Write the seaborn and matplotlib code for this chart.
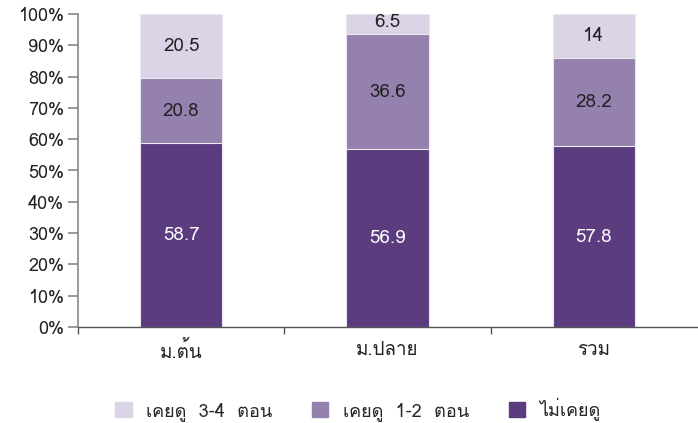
import matplotlib
matplotlib.use("Agg")
import matplotlib.pyplot as plt
from matplotlib import font_manager as fm
from matplotlib.ft2font import FT2Font
from matplotlib.patches import Patch
import seaborn as sns
import pandas as pd

categories = ["ม.ต้น", "ม.ปลาย", "รวม"]
never = [58.7, 56.9, 57.8]
seen_1_2 = [20.8, 36.6, 28.2]
seen_3_4 = [20.5, 6.5, 14.0]
yticks = list(range(0, 101, 10))

colors = {"ไม่เคยดู": "#5b3c7f", "เคยดู 1-2 ตอน": "#9581ad", "เคยดู 3-4 ตอน": "#dbd4e6"}

sns.set_theme(style="ticks")

thai_font = None
for f in fm.fontManager.ttflist:
    try:
        cm = FT2Font(f.fname).get_charmap()
        if ord("ม") in cm and ord("ู") in cm:
            thai_font = f.name
            break
    except Exception:
        pass
fams = ([thai_font] if thai_font else []) + ["DejaVu Sans"]
plt.rcParams["font.family"] = fams

df = pd.DataFrame({"cat": categories, "never": never, "s12": seen_1_2, "s34": seen_3_4})
df["b2"] = df["never"] + df["s12"]
df["b3"] = df["b2"] + df["s34"]

fig = plt.figure(figsize=(6.98, 4.23), dpi=100)
ax = fig.add_axes([78 / 698, 96 / 423, 619 / 698, 313 / 423])

sns.barplot(data=df, x="cat", y="b3", color=colors["เคยดู 3-4 ตอน"], width=0.4, ax=ax, saturation=1,
            edgecolor="#ece8f2", linewidth=0.8)
sns.barplot(data=df, x="cat", y="b2", color=colors["เคยดู 1-2 ตอน"], width=0.4, ax=ax, saturation=1,
            edgecolor="#ece8f2", linewidth=0.8)
sns.barplot(data=df, x="cat", y="never", color=colors["ไม่เคยดู"], width=0.4, ax=ax, saturation=1,
            edgecolor="#ece8f2", linewidth=0.8)

for i in range(len(categories)):
    ax.text(i, never[i] / 2, f"{never[i]:g}", ha="center", va="center", color="white", fontsize=13.5)
    ax.text(i, never[i] + seen_1_2[i] / 2, f"{seen_1_2[i]:g}", ha="center", va="center", color="#222222", fontsize=13.5)
    top = never[i] + seen_1_2[i]
    ypos = top + seen_3_4[i] / 2 + (0.6 if seen_3_4[i] < 8 else 0)
    ax.text(i, ypos, f"{seen_3_4[i]:g}", ha="center", va="center", color="#222222", fontsize=13.5)

ax.set_xlim(-0.5, 2.5)
ax.set_ylim(0, 100)
ax.set_yticks(yticks)
ax.set_yticklabels([f"{t}%" for t in yticks], fontsize=13, color="#222222")
ax.set_xticks(range(3))
ax.set_xticklabels(categories, fontsize=13.5, color="#222222")
ax.set_xticks([-0.5, 0.5, 1.5], minor=True)
ax.tick_params(axis="x", which="major", bottom=False, length=0, pad=10)
ax.tick_params(axis="x", which="minor", bottom=True, length=5, color="#555555", width=1, direction="out")
ax.tick_params(axis="y", left=True, length=7, color="#888888", width=1.2, direction="out", pad=3)
ax.set_xlabel("")
ax.set_ylabel("")
for s in ["top", "right"]:
    ax.spines[s].set_visible(False)
ax.spines["left"].set_color("#888888")
ax.spines["bottom"].set_color("#555555")
ax.spines["left"].set_linewidth(1.2)
ax.spines["bottom"].set_linewidth(1.0)

handles = [Patch(color=colors[n]) for n in ["เคยดู 3-4 ตอน", "เคยดู 1-2 ตอน", "ไม่เคยดู"]]
labels = ["เคยดู  3-4  ตอน", "เคยดู  1-2  ตอน", "ไม่เคยดู"]
fig.legend(handles, labels, loc="center", bbox_to_anchor=(358 / 698, 1 - 409 / 423), ncol=3,
           frameon=False, fontsize=13, handlelength=0.9, handleheight=0.9, columnspacing=2.2,
           handletextpad=0.8)

fig.savefig("out.png", dpi=100)
